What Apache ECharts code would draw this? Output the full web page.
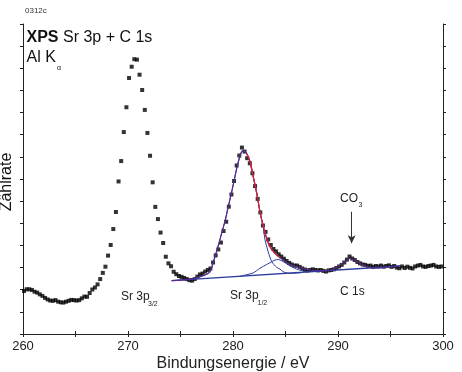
<!DOCTYPE html>
<html>
<head>
<meta charset="utf-8">
<script src="https://cdn.jsdelivr.net/npm/echarts@6.0.0/dist/echarts.min.js"></script>
<style>
  html, body { margin: 0; padding: 0; background: #fff; }
  #chart { width: 462px; height: 372px; }
</style>
</head>
<body>
<div id="chart"></div>
<script>
// measured spectrum, binding energy in eV
var energy = [
  260.1, 260.35, 260.6, 260.85, 261.1, 261.35, 261.6, 261.85, 262.1, 262.35,
  262.6, 262.85, 263.1, 263.35, 263.6, 263.85, 264.1, 264.35, 264.6, 264.85,
  265.1, 265.35, 265.6, 265.85, 266.1, 266.35, 266.6, 266.85, 267.1, 267.35,
  267.6, 267.85, 268.1, 268.35, 268.6, 268.85, 269.1, 269.35, 269.6, 269.85,
  270.1, 270.35, 270.6, 270.85, 271.1, 271.35, 271.6, 271.85, 272.1, 272.35,
  272.6, 272.85, 273.1, 273.35, 273.6, 273.85, 274.1, 274.35, 274.6, 274.85,
  275.1, 275.35, 275.6, 275.85, 276.1, 276.35, 276.6, 276.85, 277.1, 277.35,
  277.6, 277.85, 278.1, 278.35, 278.6, 278.85, 279.1, 279.35, 279.6, 279.85,
  280.1, 280.35, 280.6, 280.85, 281.1, 281.35, 281.6, 281.85, 282.1, 282.35,
  282.6, 282.85, 283.1, 283.35, 283.6, 283.85, 284.1, 284.35, 284.6, 284.85,
  285.1, 285.35, 285.6, 285.85, 286.1, 286.35, 286.6, 286.85, 287.1, 287.35,
  287.6, 287.85, 288.1, 288.35, 288.6, 288.85, 289.1, 289.35, 289.6, 289.85,
  290.1, 290.35, 290.6, 290.85, 291.1, 291.35, 291.6, 291.85, 292.1, 292.35,
  292.6, 292.85, 293.1, 293.35, 293.6, 293.85, 294.1, 294.35, 294.6, 294.85,
  295.1, 295.35, 295.6, 295.85, 296.1, 296.35, 296.6, 296.85, 297.1, 297.35,
  297.6, 297.85, 298.1, 298.35, 298.6, 298.85, 299.1, 299.35, 299.6, 299.85
]
var counts = [
  1.94, 2.02, 2.02, 1.99, 1.91, 1.87, 1.79, 1.72, 1.63, 1.56,
  1.51, 1.50, 1.53, 1.46, 1.43, 1.42, 1.46, 1.50, 1.54, 1.53,
  1.51, 1.53, 1.61, 1.69, 1.68, 1.85, 2.01, 2.10, 2.24, 2.48,
  2.76, 3.04, 3.54, 4.02, 4.74, 5.51, 6.89, 7.81, 9.12, 10.24,
  11.56, 12.07, 12.41, 12.39, 11.71, 11.02, 10.12, 9.08, 8.05, 6.85,
  5.74, 5.19, 4.58, 4.11, 3.49, 3.19, 3.06, 2.81, 2.70, 2.62,
  2.58, 2.53, 2.48, 2.43, 2.41, 2.48, 2.59, 2.69, 2.73, 2.82,
  2.89, 2.96, 3.23, 3.55, 3.82, 4.13, 4.65, 5.07, 5.75, 6.30,
  6.91, 7.61, 8.06, 8.42, 8.24, 7.94, 7.71, 7.26, 6.68, 6.10,
  5.49, 4.90, 4.61, 4.27, 4.02, 3.84, 3.73, 3.60, 3.50, 3.40,
  3.30, 3.21, 3.14, 3.09, 3.09, 3.03, 2.96, 2.91, 2.87, 2.89,
  2.92, 2.89, 2.87, 2.89, 2.85, 2.82, 2.87, 2.89, 2.92, 2.98,
  3.05, 3.12, 3.23, 3.36, 3.50, 3.41, 3.34, 3.25, 3.19, 3.14,
  3.12, 3.07, 3.09, 3.03, 3.07, 3.05, 3.09, 3.04, 3.07, 3.10,
  3.03, 3.07, 3.00, 2.97, 3.05, 2.98, 3.04, 2.99, 2.96, 3.05,
  3.09, 3.12, 3.05, 3.03, 3.07, 3.09, 3.12, 3.05, 3.03, 3.05
]

// fit curves
var baseX = [274.16, 295.9]
var baseY = [2.41, 3.07]

var envX = [274.16, 275.9, 277.17, 277.81, 278.1, 278.38, 278.67, 278.95, 279.24, 279.52,
  279.81, 280.1, 280.38, 280.67, 280.9, 281.1, 281.33, 281.62, 281.93, 282.26,
  282.57, 282.89, 283.21, 283.52, 284.0, 284.48, 285.11, 286.07, 287.33, 288.92,
  289.88, 290.48, 290.83, 291.14, 291.62, 292.1, 292.67, 293.36, 295.9]
var envY = [2.41, 2.48, 2.63, 2.81, 3.21, 3.64, 4.11, 4.61, 5.10, 5.69,
  6.28, 6.91, 7.54, 8.04, 8.27, 8.25, 8.13, 7.78, 7.10, 6.36,
  5.52, 4.85, 4.32, 3.94, 3.64, 3.45, 3.22, 3.04, 2.89, 2.86,
  3.01, 3.21, 3.31, 3.42, 3.32, 3.19, 3.06, 2.97, 3.07]

var mainX = [274.16, 275.9, 277.17, 277.81, 278.1, 278.38, 278.67, 278.95, 279.24, 279.52,
  279.81, 280.1, 280.38, 280.67, 280.9, 281.1, 281.33, 281.62, 281.93, 282.26,
  282.57, 282.89, 283.05, 283.36, 283.69, 284.16, 284.48, 284.79, 285.43, 286.5]
var mainY = [2.41, 2.48, 2.63, 2.81, 3.21, 3.64, 4.11, 4.61, 5.10, 5.69,
  6.28, 6.91, 7.54, 8.04, 8.27, 8.25, 8.13, 7.78, 7.10, 6.36,
  5.52, 4.79, 4.25, 3.70, 3.27, 3.01, 2.93, 2.81, 2.74, 2.77]

var smallX = [280.67, 281.3, 281.93, 282.57, 283.21, 283.52, 284.0, 284.32, 284.64, 285.27, 285.9, 287.02]
var smallY = [2.61, 2.68, 2.76, 2.97, 3.14, 3.22, 3.34, 3.36, 3.31, 3.12, 2.96, 2.80]

var co3Arrow = [[291.3, 5.52], [291.3, 4.10]]

function zip(xs, ys) {
  return xs.map(function (x, i) { return [x, ys[i]] })
}

var font = 'Liberation Sans, Arial, sans-serif'
var axisCol = '#222'
var blue = '#2c3c9c'

var chart = echarts.init(document.getElementById('chart'))

var envData = zip(envX, envY)
var redData = envData.filter(function (p) { return p[0] >= 281.3 && p[0] <= 284.48 })

function xAx(pos) {
  return {
    type: 'value', position: pos, min: 260, max: 300, interval: 5,
    axisLine: { show: true, lineStyle: { color: axisCol, width: 1 } },
    axisTick: { show: true, inside: false, length: 3, lineStyle: { color: axisCol } },
    axisLabel: {
      show: pos === 'bottom', color: '#222', fontSize: 13, fontFamily: font, margin: 6,
      formatter: function (v) { return v % 10 === 0 ? v : '' }
    },
    splitLine: { show: false }
  }
}
function yAx(pos) {
  return {
    type: 'value', position: pos, min: 0, max: 14, interval: 1,
    axisLine: { show: true, lineStyle: { color: axisCol, width: 1 } },
    axisTick: { show: true, inside: false, length: 3, lineStyle: { color: axisCol } },
    axisLabel: { show: false },
    splitLine: { show: false }
  }
}

var xb = xAx('bottom')
xb.name = 'Bindungsenergie / eV'
xb.nameLocation = 'middle'
xb.nameGap = 22
xb.nameMoveOverlap = false
xb.nameTextStyle = { color: '#222', fontSize: 16, fontFamily: font }

chart.setOption({
  animation: false,
  grid: { left: 23, right: 19, top: 24, bottom: 38, containLabel: false, outerBoundsMode: 'none' },
  xAxis: [xb, xAx('top')],
  yAxis: [yAx('left'), yAx('right')],
  series: [
    {
      type: 'scatter', symbol: 'rect', symbolSize: 4,
      itemStyle: { color: '#000' },
      data: zip(energy, counts), z: 2,
      markLine: {
        silent: true, symbol: ['none', 'arrow'], symbolSize: [6, 8],
        lineStyle: { color: '#333', width: 1, type: 'solid' },
        label: { show: false },
        data: [[{ coord: co3Arrow[0] }, { coord: co3Arrow[1] }]]
      }
    },
    { type: 'line', data: zip(baseX, baseY), showSymbol: false, lineStyle: { color: blue, width: 1.3 }, z: 3 },
    { type: 'line', data: zip(smallX, smallY), showSymbol: false, smooth: 0.3, lineStyle: { color: blue, width: 1 }, z: 3 },
    { type: 'line', data: zip(mainX, mainY), showSymbol: false, smooth: 0.3, lineStyle: { color: blue, width: 1 }, z: 3 },
    { type: 'line', data: envData, showSymbol: false, smooth: 0.3, lineStyle: { color: '#5a2a8e', width: 1.2 }, z: 4 },
    { type: 'line', data: redData, showSymbol: false, smooth: 0.3, lineStyle: { color: '#e3202a', width: 1.2 }, z: 5 }
  ],
  graphic: [
    { type: 'text', x: 25, y: 7, style: { text: '0312c', fill: '#333', fontSize: 8, fontFamily: font } },
    {
      type: 'text', x: 26.5, y: 30,
      style: {
        text: '{b|XPS} Sr 3p + C 1s', fill: '#111', fontSize: 16, fontFamily: font,
        rich: { b: { fontWeight: 'bold', fontSize: 16, fontFamily: font, fill: '#111' } }
      }
    },
    { type: 'text', x: 26.5, y: 50, style: { text: 'Al K', fill: '#111', fontSize: 16, fontFamily: font } },
    { type: 'text', x: 57, y: 65, style: { text: 'α', fill: '#111', fontSize: 7, fontFamily: font } },
    {
      type: 'text', x: 7, y: 182, rotation: Math.PI / 2,
      style: { text: 'Zählrate', fill: '#111', fontSize: 16, fontFamily: font, align: 'center', verticalAlign: 'middle' }
    },
    { type: 'text', x: 121, y: 291, style: { text: 'Sr 3p', fill: '#222', fontSize: 12, fontFamily: font } },
    { type: 'text', x: 148, y: 301, style: { text: '3/2', fill: '#222', fontSize: 7, fontFamily: font } },
    { type: 'text', x: 230, y: 290, style: { text: 'Sr 3p', fill: '#222', fontSize: 12, fontFamily: font } },
    { type: 'text', x: 257.5, y: 300, style: { text: '1/2', fill: '#222', fontSize: 7, fontFamily: font } },
    { type: 'text', x: 340, y: 286, style: { text: 'C 1s', fill: '#222', fontSize: 12, fontFamily: font } },
    { type: 'text', x: 340, y: 193, style: { text: 'CO', fill: '#222', fontSize: 12, fontFamily: font } },
    { type: 'text', x: 358.5, y: 202, style: { text: '3', fill: '#222', fontSize: 7, fontFamily: font } }
  ]
})
</script>
</body>
</html>
